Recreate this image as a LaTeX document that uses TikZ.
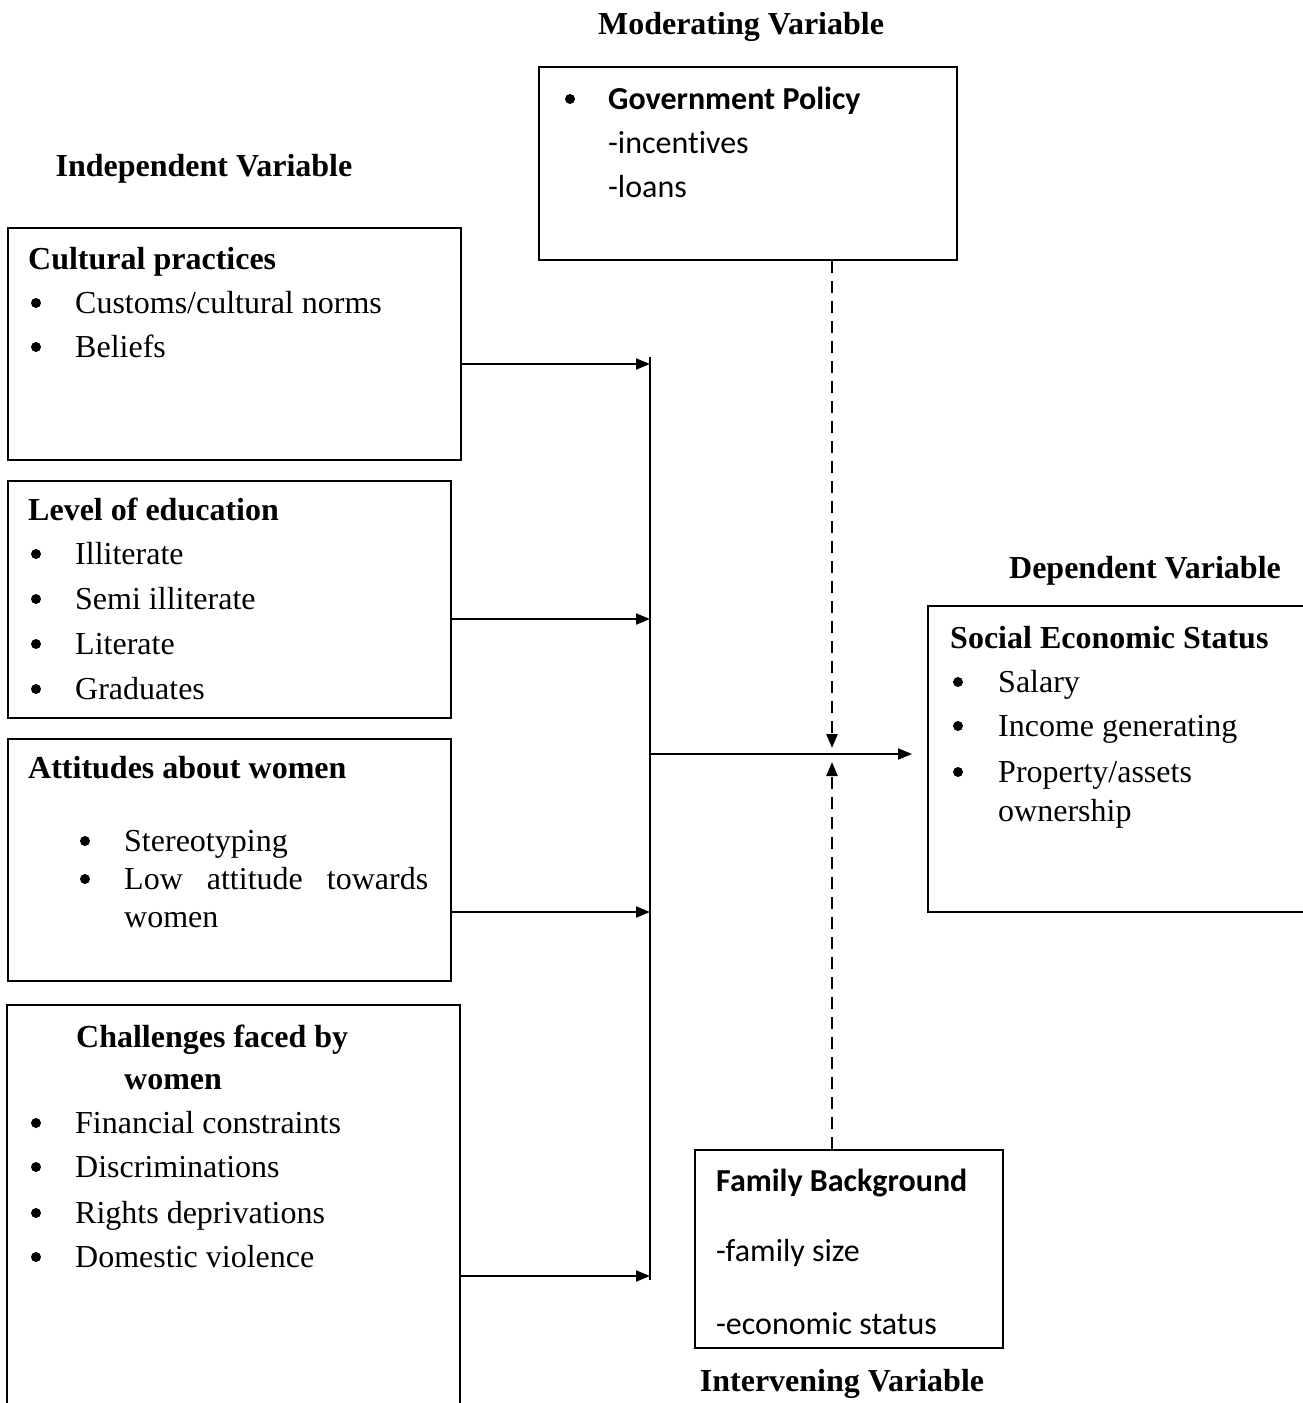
\documentclass[tikz,border=0pt]{standalone}
\usepackage{fontspec}
\setmainfont{Liberation Serif}
\newfontfamily\calfont[Ligatures=NoCommon]{Carlito}
\usetikzlibrary{arrows.meta}
\newcommand\itm[5]{\node[bul] (#1b) at (#2,#4-10) {};\node[txt] (#1) at (#3,#4) {#5};}
\begin{document}
\begin{tikzpicture}[x=1pt,y=-1pt,
  txt/.style={anchor=base west, inner sep=0pt, font=\fontsize{32}{40}\selectfont},
  btxt/.style={txt, font=\fontsize{32}{40}\selectfont\bfseries},
  ctxt/.style={txt, font=\fontsize{32}{40}\selectfont\calfont},
  cbtxt/.style={txt, font=\fontsize{32}{40}\selectfont\calfont\bfseries},
  ttl/.style={anchor=base, inner sep=0pt, font=\fontsize{32}{40}\selectfont\bfseries},
  bul/.style={circle, fill=black, minimum size=10pt, inner sep=0pt},
  box/.style={draw, line width=2pt, anchor=north west, inner sep=0pt},
  openbox/.style={anchor=north west, inner sep=0pt},
  edge/.style={line width=2pt},
  arr/.style={line width=2pt, -{Triangle[length=14pt,width=11pt]}},
  dsh/.style={arr, line width=2.4pt, dash pattern=on 12pt off 8pt},
]
\useasboundingbox[fill=white] (0,0) rectangle (1302,1403);

% titles
\node[ttl] (tmod) at (741,34) {Moderating Variable};
\node[ttl] (tind) at (204,176) {Independent Variable};
\node[ttl] (tdep) at (1145,578) {Dependent Variable};
\node[ttl] (tint) at (842,1391) {Intervening Variable};

% boxes
\node[box, minimum width=418pt, minimum height=193pt] (gov) at (538,66) {};
\node[box, minimum width=453pt, minimum height=232pt] (cult) at (7,227) {};
\node[box, minimum width=443pt, minimum height=237pt] (edu) at (7,480) {};
\node[box, minimum width=443pt, minimum height=242pt] (att) at (7,738) {};
\node[openbox, minimum width=453pt, minimum height=410pt] (chal) at (7,1005) {};
\draw[edge] (chal.south west) -- (chal.north west) -- (chal.north east) -- (chal.south east);
\node[openbox, minimum width=390pt, minimum height=306pt] (dep) at (928,606) {};
\draw[edge] (dep.north east) -- (dep.north west) -- (dep.south west) -- (dep.south east);
\node[box, minimum width=308pt, minimum height=198pt] (fam) at (694,1149) {};

% government policy
\node[bul] (g0b) at (570,99) {};
\node[cbtxt] (g0) at (608,109) {Government Policy};
\node[ctxt] (g1) at (608,153) {-incentives};
\node[ctxt] (g2) at (608,197) {-loans};

% cultural practices
\node[btxt] (c0) at (28,269) {Cultural practices};
\itm{c1}{36}{75}{313}{Customs/cultural norms}
\itm{c2}{36}{75}{357}{Beliefs}

% level of education
\node[btxt] (e0) at (28,520) {Level of education};
\itm{e1}{36}{75}{564}{Illiterate}
\itm{e2}{36}{75}{609}{Semi illiterate}
\itm{e3}{36}{75}{654}{Literate}
\itm{e4}{36}{75}{699}{Graduates}

% attitudes
\node[btxt] (a0) at (28,778) {Attitudes about women};
\itm{a1}{85}{124}{851}{Stereotyping}
\itm{a2}{85}{124}{889}{\makebox[304pt][s]{Low\hfill attitude\hfill towards}}
\node[txt] (a3) at (124,927) {women};

% challenges
\node[btxt] (h0) at (76,1047) {Challenges faced by};
\node[btxt] (h0b) at (124,1089) {women};
\itm{h1}{36}{75}{1133}{Financial constraints}
\itm{h2}{36}{75}{1177}{Discriminations}
\itm{h3}{36}{75}{1223}{Rights deprivations}
\itm{h4}{36}{75}{1267}{Domestic violence}

% dependent
\node[btxt] (d0) at (950,648) {Social Economic Status};
\itm{d1}{958}{998}{692}{Salary}
\itm{d2}{958}{998}{736}{Income generating}
\itm{d3}{958}{998}{782}{Property/assets}
\node[txt] (d4) at (998,821) {ownership};

% family background
\node[cbtxt] (f0) at (716,1191) {Family Background};
\node[ctxt] (f1) at (716,1261) {-family size};
\node[ctxt] (f2) at (716,1334) {-economic status};

% bus and connectors
\coordinate (btop) at (650,357);
\coordinate (bbot) at (650,1280);
\coordinate (b1) at (650,364);
\coordinate (b2) at (650,619);
\coordinate (b3) at (650,912);
\coordinate (b4) at (650,1276);
\coordinate (bm) at (650,754);
\coordinate (bout) at (912,754);
\coordinate (mtop) at (832,748);
\coordinate (mbot) at (832,762);

\draw[edge] (btop) -- (bbot);
\draw[arr] (cult.east |- b1) -- (b1);
\draw[arr] (edu.east |- b2) -- (b2);
\draw[arr] (att.east |- b3) -- (b3);
\draw[arr] (chal.east |- b4) -- (b4);
\draw[arr] (bm) -- (bout);
\draw[dsh] (gov.south -| mtop) -- (mtop);
\draw[dsh] (fam.north -| mbot) -- (mbot);
\end{tikzpicture}
\end{document}
